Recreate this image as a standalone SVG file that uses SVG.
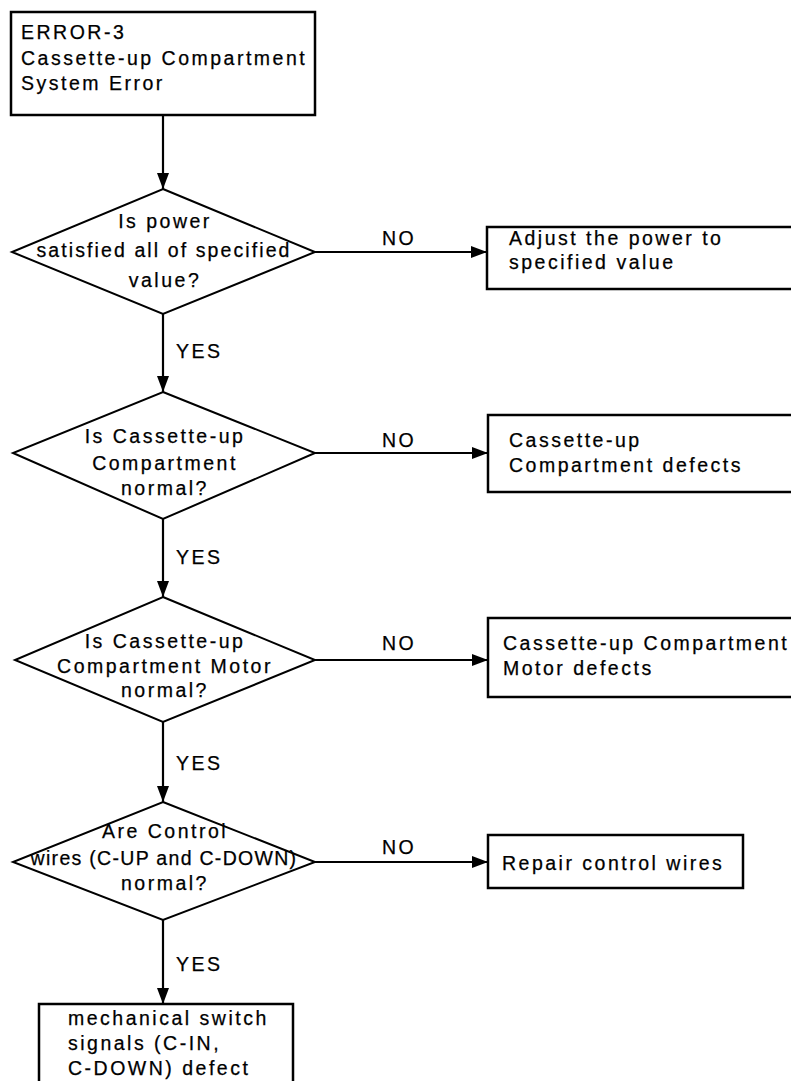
<svg xmlns="http://www.w3.org/2000/svg" width="791" height="1081" viewBox="0 0 791 1081">
<style>
  .box { fill: #fff; stroke: #000; stroke-width: 2.5; }
  .dia { fill: #fff; stroke: #000; stroke-width: 2; }
  .edge { fill: none; stroke: #000; stroke-width: 2.2; }
  text { font-family: "Liberation Sans", Arial, sans-serif; font-size: 19.5px; letter-spacing: 2.5px; fill: #000; stroke: #000; stroke-width: 0.25; }
  .c { text-anchor: middle; }
</style>
<defs>
  <marker id="arr" viewBox="0 0 16 12" refX="16" refY="6" markerWidth="16" markerHeight="12" markerUnits="userSpaceOnUse" orient="auto">
    <path d="M0,0 L16,6 L0,12 Z" fill="#000"/>
  </marker>
</defs>
<rect width="791" height="1081" fill="#fff"/>

<g id="connectors">
  <line class="edge" x1="163" y1="115" x2="163" y2="189" marker-end="url(#arr)"/>
  <line class="edge" x1="163" y1="314" x2="163" y2="392" marker-end="url(#arr)"/>
  <line class="edge" x1="163" y1="519" x2="163" y2="597" marker-end="url(#arr)"/>
  <line class="edge" x1="163" y1="722" x2="163" y2="802" marker-end="url(#arr)"/>
  <line class="edge" x1="163" y1="920" x2="163" y2="1004" marker-end="url(#arr)"/>
  <line class="edge" x1="315" y1="252" x2="487" y2="252" marker-end="url(#arr)"/>
  <line class="edge" x1="315" y1="453" x2="488" y2="453" marker-end="url(#arr)"/>
  <line class="edge" x1="315" y1="660" x2="488" y2="660" marker-end="url(#arr)"/>
  <line class="edge" x1="315" y1="862" x2="488" y2="862" marker-end="url(#arr)"/>
  <text x="176" y="358">YES</text>
  <text x="176" y="564">YES</text>
  <text x="176" y="770">YES</text>
  <text x="176" y="971">YES</text>
  <text x="382" y="245">NO</text>
  <text x="382" y="447">NO</text>
  <text x="382" y="650">NO</text>
  <text x="382" y="854">NO</text>
</g>

<g id="start">
  <rect class="box" x="11" y="12" width="304" height="103"/>
  <text x="21" y="39">ERROR-3</text>
  <text x="21" y="65">Cassette-up Compartment</text>
  <text x="21" y="90">System Error</text>
</g>

<g id="q1">
  <polygon class="dia" points="163,189 315,252 163,314 12,252"/>
  <text class="c" x="165" y="228">Is power</text>
  <text class="c" x="164" y="257" style="letter-spacing:2.1px">satisfied all of specified</text>
  <text class="c" x="165" y="287">value?</text>
</g>

<g id="a1">
  <rect class="box" x="487" y="227" width="306" height="62"/>
  <text x="509" y="245">Adjust the power to</text>
  <text x="509" y="269">specified value</text>
</g>

<g id="q2">
  <polygon class="dia" points="163,392 315,453 163,519 13,453"/>
  <text class="c" x="165" y="443">Is Cassette-up</text>
  <text class="c" x="165" y="470">Compartment</text>
  <text class="c" x="165" y="495">normal?</text>
</g>

<g id="a2">
  <rect class="box" x="488" y="415" width="305" height="77"/>
  <text x="509" y="447">Cassette-up</text>
  <text x="509" y="472">Compartment defects</text>
</g>

<g id="q3">
  <polygon class="dia" points="163,597 315,660 163,722 15,660"/>
  <text class="c" x="165" y="648">Is Cassette-up</text>
  <text class="c" x="165" y="673">Compartment Motor</text>
  <text class="c" x="165" y="697">normal?</text>
</g>

<g id="a3">
  <rect class="box" x="488" y="618" width="305" height="79"/>
  <text x="503" y="650">Cassette-up Compartment</text>
  <text x="503" y="675">Motor defects</text>
</g>

<g id="q4">
  <polygon class="dia" points="163,802 315,862 163,920 13,862"/>
  <text class="c" x="165" y="838">Are Control</text>
  <text class="c" x="164" y="865" style="letter-spacing:1.3px">wires (C-UP and C-DOWN)</text>
  <text class="c" x="165" y="890">normal?</text>
</g>

<g id="a4">
  <rect class="box" x="488" y="835" width="255" height="53"/>
  <text x="502" y="870">Repair control wires</text>
</g>

<g id="end">
  <rect class="box" x="39" y="1004" width="254" height="90"/>
  <text x="68" y="1025">mechanical switch</text>
  <text x="68" y="1050">signals (C-IN,</text>
  <text x="68" y="1075">C-DOWN) defect</text>
</g>
</svg>
